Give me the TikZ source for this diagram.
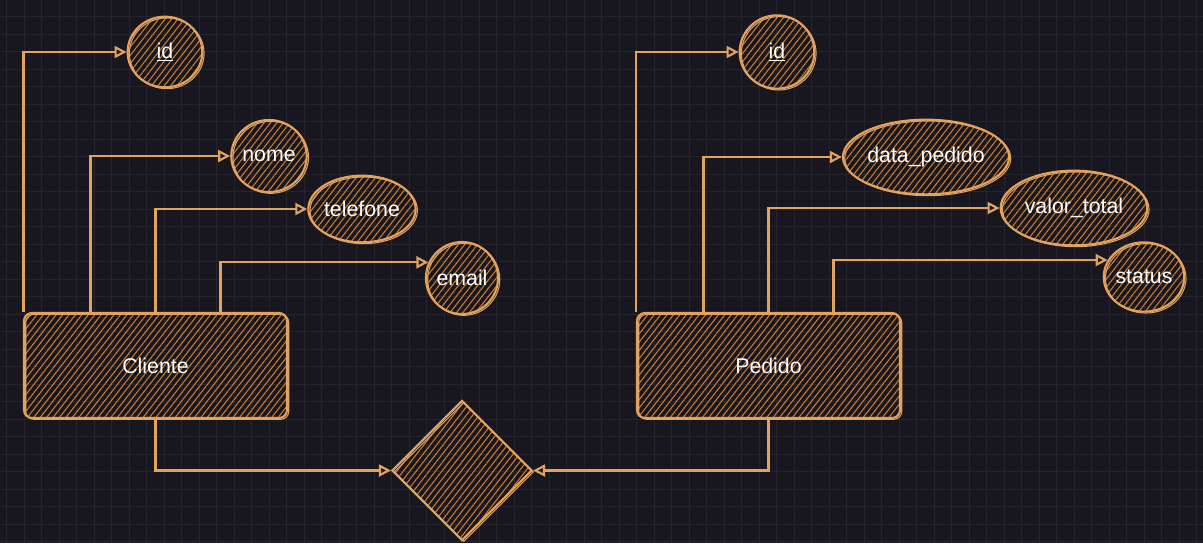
\documentclass[tikz,border=0pt]{standalone}
\usepackage{fontspec}
\setmainfont{Liberation Sans}
\usetikzlibrary{shapes.geometric,patterns.meta,arrows.meta,calc}

\definecolor{bgdark}{HTML}{18161E}
\definecolor{gridline}{HTML}{26242C}
\definecolor{penorange}{HTML}{E2A260}
\definecolor{hatchorange}{HTML}{C97F30}

\tikzset{every picture/.style={line width=0.75pt}}
\tikzset{
  sketch/.style={draw=penorange, line width=1.6pt,
    pattern={Lines[angle=52,distance=3.8pt,line width=0.8pt]}, pattern color=hatchorange,
    postaction={draw=penorange, line width=0.8pt, transform canvas={xshift=1.3pt,yshift=-1pt}},
    text=white, font=\fontsize{16}{19}\selectfont, inner sep=0pt},
  entity/.style={sketch, rectangle, rounded corners=6pt, minimum width=197.25pt, minimum height=78.75pt},
  attrib/.style={sketch, ellipse},
  relation/.style={sketch, diamond, minimum width=105pt, minimum height=105pt},
  link/.style={draw=penorange, line width=1.6pt, -{Triangle[open,length=9pt,width=9pt]}}
}

\begin{document}
\begin{tikzpicture}[x=0.75pt,y=0.75pt,yscale=-1,xscale=1]
% background and grid
\fill[bgdark] (0,0) rectangle (1203,543);
\useasboundingbox (0,0) rectangle (1203,543);
\foreach \gx in {6.7,24.2,...,1203} \draw[gridline,line width=0.6pt] (\gx,0) -- (\gx,543);
\foreach \gy in {16.7,34.2,...,543} \draw[gridline,line width=0.6pt] (0,\gy) -- (1203,\gy);

% entities
\node[entity] (cliente) at (155.5,365.5) {Cliente};
\node[entity] (pedido) at (768.5,365.5) {Pedido};
% relationship
\node[relation] (rel) at (462,470.5) {};

% Cliente attributes
\node[attrib, minimum width=56pt, minimum height=53pt] (cid) at (165,52) {\underline{id}};
\node[attrib, minimum width=54pt, minimum height=54pt] (cnome) at (269,156) {nome};
\node[attrib, minimum width=65pt, minimum height=50pt] (ctel) at (362,209) {telefone};
\node[attrib, minimum width=54pt, minimum height=54pt] (cemail) at (462,278) {email};

% Pedido attributes
\node[attrib, minimum width=56pt, minimum height=55pt] (pid) at (777,52) {\underline{id}};
\node[attrib, minimum width=120pt, minimum height=56pt] (pdata) at (926,157) {data\_pedido};
\node[attrib, minimum width=110pt, minimum height=56pt] (pvalor) at (1074,208) {valor\_total};
\node[attrib, minimum width=55pt, minimum height=52pt] (pstatus) at (1144,277) {status};

% connectors Cliente
\draw[link] (cliente.north west) |- (cid.west);
\draw[link] ($(cliente.north)+(-65,0)$) |- (cnome.west);
\draw[link] (cliente.north) |- (ctel.west);
\draw[link] ($(cliente.north)+(65,0)$) |- (cemail.155);

% connectors Pedido
\draw[link] (pedido.north west) |- (pid.west);
\draw[link] ($(pedido.north)+(-65,0)$) |- (pdata.west);
\draw[link] (pedido.north) |- (pvalor.west);
\draw[link] ($(pedido.north)+(65,0)$) |- (pstatus.155);

% relationship links
\draw[link] (cliente.south) |- (rel.west);
\draw[link] (pedido.south) |- (rel.east);

\end{tikzpicture}
\end{document}
